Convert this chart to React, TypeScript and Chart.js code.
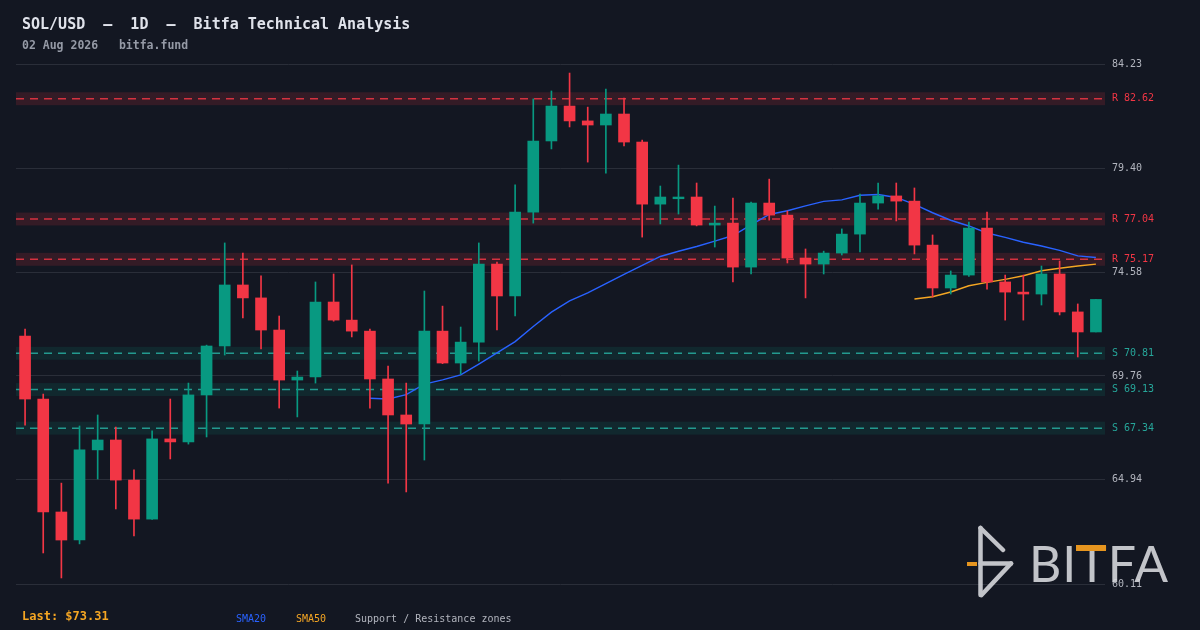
import React, { useEffect, useRef } from "react";
import { Chart, registerables } from "chart.js";

Chart.register(...registerables);

// ---- data ----
const opens = [
  71.61, 68.69, 63.45, 62.15, 66.33, 66.79, 64.93, 63.12, 66.84, 66.70,
  68.88, 71.15, 73.98, 73.38, 71.89, 69.57, 69.71, 73.19, 72.35, 71.84,
  69.62, 67.95, 67.53, 71.84, 70.36, 71.33, 74.95, 73.47, 77.36, 80.66,
  82.28, 81.59, 81.40, 81.91, 80.61, 77.73, 77.98, 78.06, 76.76, 76.85,
  74.81, 77.78, 77.22, 75.23, 74.95, 75.46, 76.34, 77.78, 78.11, 77.87,
  75.83, 73.84, 74.44, 76.62, 74.12, 73.65, 73.56, 74.49, 72.73, 71.80,
];
const highs = [
  71.94, 68.92, 64.79, 67.44, 67.95, 67.39, 65.40, 67.21, 68.69, 69.43,
  71.19, 75.93, 75.46, 74.40, 72.54, 69.99, 74.12, 74.49, 74.91, 71.94,
  70.22, 69.43, 73.70, 73.00, 72.03, 75.93, 75.04, 78.62, 82.61, 82.98,
  83.81, 82.23, 83.07, 82.65, 80.70, 78.57, 79.54, 78.71, 77.64, 78.01,
  77.83, 78.89, 77.41, 75.65, 75.55, 76.58, 78.20, 78.71, 78.71, 78.48,
  76.30, 74.63, 76.90, 77.36, 74.44, 74.44, 74.86, 75.09, 73.10, 73.31,
];
const lows = [
  67.48, 61.55, 60.39, 61.97, 64.98, 63.59, 62.34, 63.10, 65.91, 66.60,
  66.93, 70.73, 72.45, 71.01, 68.27, 67.86, 69.43, 72.30, 71.57, 68.27,
  64.79, 64.38, 65.86, 70.33, 69.85, 70.45, 71.89, 72.54, 76.85, 80.29,
  81.31, 79.68, 79.17, 80.43, 76.20, 76.81, 77.27, 76.72, 75.74, 74.12,
  74.49, 76.99, 75.00, 73.38, 74.49, 75.37, 75.51, 77.50, 76.95, 75.42,
  73.42, 73.56, 74.38, 73.79, 72.35, 72.35, 73.05, 72.59, 70.64, 71.80,
];
const closes = [
  68.69, 63.45, 62.15, 66.33, 66.79, 64.93, 63.12, 66.84, 66.70, 68.88,
  71.15, 73.98, 73.38, 71.89, 69.57, 69.71, 73.19, 72.35, 71.84, 69.62,
  67.95, 67.53, 71.84, 70.36, 71.33, 74.95, 73.47, 77.36, 80.66, 82.28,
  81.59, 81.40, 81.91, 80.61, 77.73, 78.06, 78.06, 76.76, 76.85, 74.81,
  77.78, 77.22, 75.23, 74.95, 75.46, 76.34, 77.78, 78.11, 77.87, 75.83,
  73.84, 74.44, 76.62, 74.12, 73.65, 73.56, 74.49, 72.73, 71.80, 73.31,
];
const yTicks = [60.11, 64.94, 69.76, 74.58, 79.4, 84.23];
const resistanceLevels = [82.62, 77.04, 75.17];
const supportLevels = [70.81, 69.13, 67.34];
const zoneHalf = 0.3;
const lastPrice = 73.31;

const categories: string[] = (() => {
  const out: string[] = [];
  const end = Date.UTC(2026, 7, 2);
  for (let i = closes.length - 1; i >= 0; i--) {
    out.push(new Date(end - i * 86400000).toISOString().slice(0, 10));
  }
  return out;
})();

// ---- styles ----
const BG = "#131722";
const UP = "#089981";
const DOWN = "#f23645";
const BLUE = "#2962ff";
const ORANGE = "#f5a623";
const MONO = '"DejaVu Sans Mono", "Liberation Mono", monospace';

function sma(values: number[], n: number): (number | null)[] {
  return values.map((_, i) =>
    i < n - 1 ? null : values.slice(i - n + 1, i + 1).reduce((a, b) => a + b, 0) / n
  );
}

const zonesPlugin = {
  id: "srZones",
  beforeDatasetsDraw(chart: any) {
    const { ctx, chartArea, scales } = chart;
    const y = scales.y;
    const draw = (lv: number, fill: string, stroke: string) => {
      const top = y.getPixelForValue(lv + zoneHalf);
      const bot = y.getPixelForValue(lv - zoneHalf);
      ctx.save();
      ctx.fillStyle = fill;
      ctx.fillRect(chartArea.left, top, chartArea.right - chartArea.left, bot - top);
      const py = y.getPixelForValue(lv);
      ctx.strokeStyle = stroke;
      ctx.lineWidth = 1.5;
      ctx.setLineDash([8, 6]);
      ctx.beginPath();
      ctx.moveTo(chartArea.left, py);
      ctx.lineTo(chartArea.right, py);
      ctx.stroke();
      ctx.restore();
    };
    resistanceLevels.forEach((lv) => draw(lv, "rgba(242,54,69,0.15)", "rgba(242,54,69,0.85)"));
    supportLevels.forEach((lv) => draw(lv, "rgba(8,153,129,0.13)", "rgba(38,166,154,0.9)"));
  },
  afterDraw(chart: any) {
    const { ctx, chartArea, scales } = chart;
    const y = scales.y;
    ctx.save();
    ctx.font = `10px ${MONO}`;
    ctx.textBaseline = "middle";
    ctx.textAlign = "left";
    resistanceLevels.forEach((lv) => {
      ctx.fillStyle = DOWN;
      ctx.fillText(`R ${lv.toFixed(2)}`, chartArea.right + 7, y.getPixelForValue(lv));
    });
    supportLevels.forEach((lv) => {
      ctx.fillStyle = "#26a69a";
      ctx.fillText(`S ${lv.toFixed(2)}`, chartArea.right + 7, y.getPixelForValue(lv));
    });
    ctx.restore();
  },
};

function CandleChart() {
  const ref = useRef<HTMLCanvasElement | null>(null);
  useEffect(() => {
    if (!ref.current) return;
    const colors = closes.map((c, i) => (c >= opens[i] ? UP : DOWN));
    const chart = new Chart(ref.current, {
      type: "bar",
      data: {
        labels: categories,
        datasets: [
          {
            type: "bar",
            label: "body",
            data: opens.map((o, i) => [o, closes[i]]) as any,
            backgroundColor: colors,
            borderWidth: 0,
            borderSkipped: false,
            barThickness: 11,
            grouped: false,
            order: 0,
          } as any,
          {
            type: "bar",
            label: "wick",
            data: lows.map((l, i) => [l, highs[i]]) as any,
            backgroundColor: colors,
            borderWidth: 0,
            borderSkipped: false,
            barThickness: 1,
            grouped: false,
            order: 1,
          } as any,
          {
            type: "line",
            label: "SMA20",
            data: sma(closes, 20),
            borderColor: BLUE,
            borderWidth: 1.4,
            pointRadius: 0,
            tension: 0,
            order: 2,
          } as any,
          {
            type: "line",
            label: "SMA50",
            data: sma(closes, 50),
            borderColor: ORANGE,
            borderWidth: 1.4,
            pointRadius: 0,
            tension: 0,
            order: 3,
          } as any,
        ],
      },
      options: {
        animation: false,
        responsive: false,
        maintainAspectRatio: false,
        events: [],
        layout: { padding: { left: 16, top: 64, bottom: 46, right: 0 } },
        plugins: { legend: { display: false }, tooltip: { enabled: false }, title: { display: false } },
        scales: {
          x: { type: "category", display: false, offset: true, grid: { display: false } },
          y: {
            type: "linear",
            position: "right",
            min: yTicks[0],
            max: yTicks[yTicks.length - 1],
            afterBuildTicks: (s: any) => {
              s.ticks = yTicks.map((v) => ({ value: v }));
            },
            afterFit: (s: any) => {
              s.width = 95;
            },
            border: { display: false },
            grid: { color: "#2a2e39", lineWidth: 1, drawTicks: false },
            ticks: {
              padding: 7,
              color: "#b2b5be",
              font: { family: MONO, size: 10 },
              callback: (v: any) => Number(v).toFixed(2),
            },
          },
        },
      } as any,
      plugins: [zonesPlugin],
    });
    return () => chart.destroy();
  }, []);
  return <canvas ref={ref} width={1200} height={630} style={{ position: "absolute", left: 0, top: 0, width: 1200, height: 630 }} />;
}

export default function App() {
  useEffect(() => {
    document.body.style.margin = "0";
    document.body.style.background = BG;
  }, []);
  const text = (style: React.CSSProperties, content: string) => (
    <div style={{ position: "absolute", whiteSpace: "pre", fontFamily: MONO, ...style }}>{content}</div>
  );
  return (
    <div style={{ position: "relative", width: 1200, height: 630, background: BG, overflow: "hidden" }}>
      <CandleChart />
      {text({ left: 22, top: 15, fontSize: 15, lineHeight: "18px", fontWeight: 700, color: "#e0e3eb" }, "SOL/USD  —  1D  —  Bitfa Technical Analysis")}
      {text({ left: 22, top: 38, fontSize: 11.5, lineHeight: "14px", fontWeight: 700, color: "#959aa6" }, "02 Aug 2026   bitfa.fund")}
      {text({ left: 22, top: 608, fontSize: 12, lineHeight: "16px", fontWeight: 700, color: ORANGE }, `Last: $${lastPrice.toFixed(2)}`)}
      {text({ left: 236, top: 612, fontSize: 10, lineHeight: "14px", color: BLUE }, "SMA20")}
      {text({ left: 296, top: 612, fontSize: 10, lineHeight: "14px", color: ORANGE }, "SMA50")}
      {text({ left: 355, top: 612, fontSize: 10, lineHeight: "14px", color: "#b2b5be" }, "Support / Resistance zones")}
      <svg width={1200} height={630} style={{ position: "absolute", left: 0, top: 0, pointerEvents: "none" }}>
        <g stroke="#d6d7dc" strokeWidth={4.5} strokeLinecap="round" strokeLinejoin="round" fill="none" opacity={0.9}>
          <line x1={980.5} y1={528} x2={980.5} y2={595} />
          <line x1={980.5} y1={528} x2={1003} y2={550} />
          <line x1={980.5} y1={563.5} x2={1011} y2={563.5} />
          <line x1={1011} y1={563.5} x2={981.5} y2={595} />
        </g>
        <line x1={967} y1={564} x2={977} y2={564} stroke="#e6951f" strokeWidth={4} />
        <text x={1029} y={582} fontFamily="Lato, 'Noto Sans', sans-serif" fontSize={50} fill="#d6d7dc" opacity={0.9} textLength={139} lengthAdjust="spacing">BITFA</text>
        <rect x={1076} y={545} width={30} height={6} fill="#e6951f" />
      </svg>
    </div>
  );
}
